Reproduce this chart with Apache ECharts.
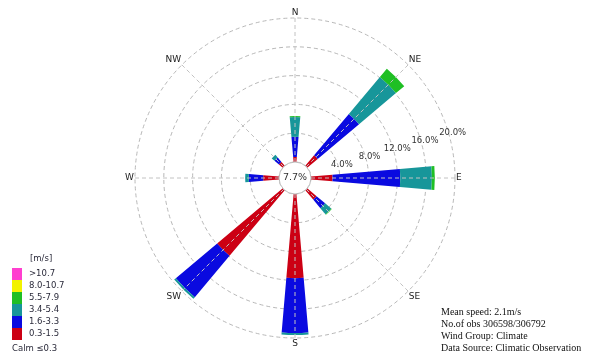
<!DOCTYPE html>
<html>
<head>
<meta charset="utf-8">
<script src="https://cdn.jsdelivr.net/npm/echarts@6/dist/echarts.min.js"></script>
<style>
  html, body { margin: 0; padding: 0; background: #fff; }
  #chart { width: 594px; height: 353px; }
</style>
</head>
<body>
<div id="chart"></div>
<script>
// Wind directions (clockwise from north)
const DIRS = ['N', 'NE', 'E', 'SE', 'S', 'SW', 'W', 'NW'];

// Wind speed classes [m/s], slowest first (inner part of each bar)
const SPEED_BINS = ['0.3-1.5', '1.6-3.3', '3.4-5.4', '5.5-7.9', '8.0-10.7', '>10.7'];

// Frequency [%] of each speed class per direction
const FREQ_03_15  = [0.7, 1.9, 3.0, 1.7, 11.7, 11.9, 2.2, 0.7];
const FREQ_16_33  = [2.8, 7.5, 9.4, 1.55, 7.6, 7.5, 2.0, 0.8];
const FREQ_34_54  = [2.75, 6.7, 4.4, 1.1, 0.3, 0.3, 0.5, 0.5];
const FREQ_55_79  = [0.15, 1.5, 0.4, 0.1, 0, 0, 0, 0];
const FREQ_80_107 = [0, 0, 0, 0, 0, 0, 0, 0];
const FREQ_GT_107 = [0, 0, 0, 0, 0, 0, 0, 0];

// Radial scale
const R_MAX = 20;
const R_STEP = 4;

// Calm share [%]
const CALM = 7.7;
const CALM_LIMIT = '≤0.3';

// Station summary
const MEAN_SPEED = 2.1;
const OBS_VALID = 306598;
const OBS_TOTAL = 306792;
const WIND_GROUP = 'Climate';
const DATA_SOURCE = 'Climatic Observation';

// ---- styling / layout ----
const BIN_COLORS = ['#cc0014', '#0a0ae0', '#17969a', '#1fbf24', '#f2f200', '#ff3fcf'];
const CX = 295, CY = 178;   // rose centre
const R0 = 16, R1 = 160;    // calm-circle radius and outer ring radius
const SANS = 'DejaVu Sans';

const FREQ = [FREQ_03_15, FREQ_16_33, FREQ_34_54, FREQ_55_79, FREQ_80_107, FREQ_GT_107];

const barSeries = SPEED_BINS.map((name, i) => ({
  name: name,
  type: 'bar',
  coordinateSystem: 'polar',
  polarIndex: 0,
  stack: 'wind',
  barWidth: '22%',
  silent: true,
  itemStyle: { color: BIN_COLORS[i] },
  data: FREQ[i]
}));

const chart = echarts.init(document.getElementById('chart'), null, { renderer: 'canvas' });

chart.setOption({
  animation: false,
  backgroundColor: '#fff',
  polar: [
    { center: [CX, CY], radius: [R0, R1] },          // bars + rings
    { center: [CX, CY], radius: [R0, R1] },          // radial direction lines
    { center: [CX, CY], radius: [R0 + 4, R1 + 4] }   // percentage labels
  ],
  angleAxis: [
    {
      polarIndex: 0,
      type: 'category',
      data: DIRS,
      startAngle: 90 + 360 / DIRS.length / 2,
      clockwise: true,
      boundaryGap: true,
      axisLine: { show: false },
      axisTick: { show: false },
      splitLine: { show: false },
      axisLabel: { margin: 1, fontSize: 9, color: '#222', fontFamily: SANS }
    },
    {
      polarIndex: 1,
      type: 'value',
      min: 0, max: 360, interval: 360 / DIRS.length,
      startAngle: 90,
      z: 5,
      axisLine: { show: false },
      axisTick: { show: false },
      axisLabel: { show: false },
      splitLine: { show: true, lineStyle: { color: '#c2c2c2', width: 1, type: [4, 3] } }
    },
    {
      polarIndex: 2,
      type: 'value',
      min: 0, max: 360,
      startAngle: 16,
      show: false
    }
  ],
  radiusAxis: [
    {
      polarIndex: 0,
      type: 'value',
      min: 0, max: R_MAX, interval: R_STEP,
      z: 0,
      axisLine: { show: false },
      axisTick: { show: false },
      axisLabel: { show: false },
      splitLine: { show: true, lineStyle: { color: '#b8b8b8', width: 1, type: [4, 3] } }
    },
    {
      polarIndex: 1,
      type: 'value',
      min: 0, max: R_MAX,
      show: false
    },
    {
      polarIndex: 2,
      type: 'value',
      min: 0, max: R_MAX, interval: R_STEP,
      axisLine: { show: false },
      axisTick: { show: false },
      splitLine: { show: false },
      axisLabel: {
        margin: 0,
        align: 'center',
        verticalAlign: 'middle',
        fontSize: 8.5,
        color: '#333',
        fontFamily: SANS,
        formatter: v => (v > 0 ? v.toFixed(1) + '%' : '')
      }
    }
  ],
  legend: {
    data: SPEED_BINS.slice().reverse(),
    orient: 'vertical',
    left: 12,
    top: 268,
    padding: 0,
    itemWidth: 10,
    itemHeight: 12,
    itemGap: 0,
    icon: 'rect',
    selectedMode: false,
    textStyle: { fontSize: 8.5, color: '#2a2a3a', fontFamily: SANS, padding: [0, 0, 0, 2] }
  },
  title: [
    {
      text: '[m/s]',
      left: 30, top: 254, padding: 0,
      textStyle: { fontSize: 8.5, fontWeight: 'normal', color: '#2a2a3a', fontFamily: SANS }
    },
    {
      text: 'Calm ' + CALM_LIMIT,
      left: 12, top: 344, padding: 0,
      textStyle: { fontSize: 8.5, fontWeight: 'normal', color: '#2a2a3a', fontFamily: SANS }
    },
    {
      text: 'Mean speed: ' + MEAN_SPEED + 'm/s\n' +
            'No.of obs ' + OBS_VALID + '/' + OBS_TOTAL + '\n' +
            'Wind Group: ' + WIND_GROUP + '\n' +
            'Data Source: ' + DATA_SOURCE,
      left: 441, top: 306, padding: 0,
      textStyle: {
        fontSize: 10, fontWeight: 'normal', color: '#111',
        fontFamily: 'Liberation Serif', lineHeight: 12.2
      }
    }
  ],
  series: barSeries.concat([
    {
      name: 'calm',
      type: 'pie',
      center: [CX, CY],
      radius: [0, R0],
      silent: true,
      z: 6,
      itemStyle: { color: '#fff', borderColor: '#bdbdbd', borderWidth: 1 },
      label: {
        show: true, position: 'center',
        formatter: CALM.toFixed(1) + '%',
        fontSize: 9.5, color: '#333', fontFamily: SANS
      },
      labelLine: { show: false },
      emphasis: { disabled: true },
      data: [{ value: 1, name: 'calm' }]
    }
  ])
});
</script>
</body>
</html>
